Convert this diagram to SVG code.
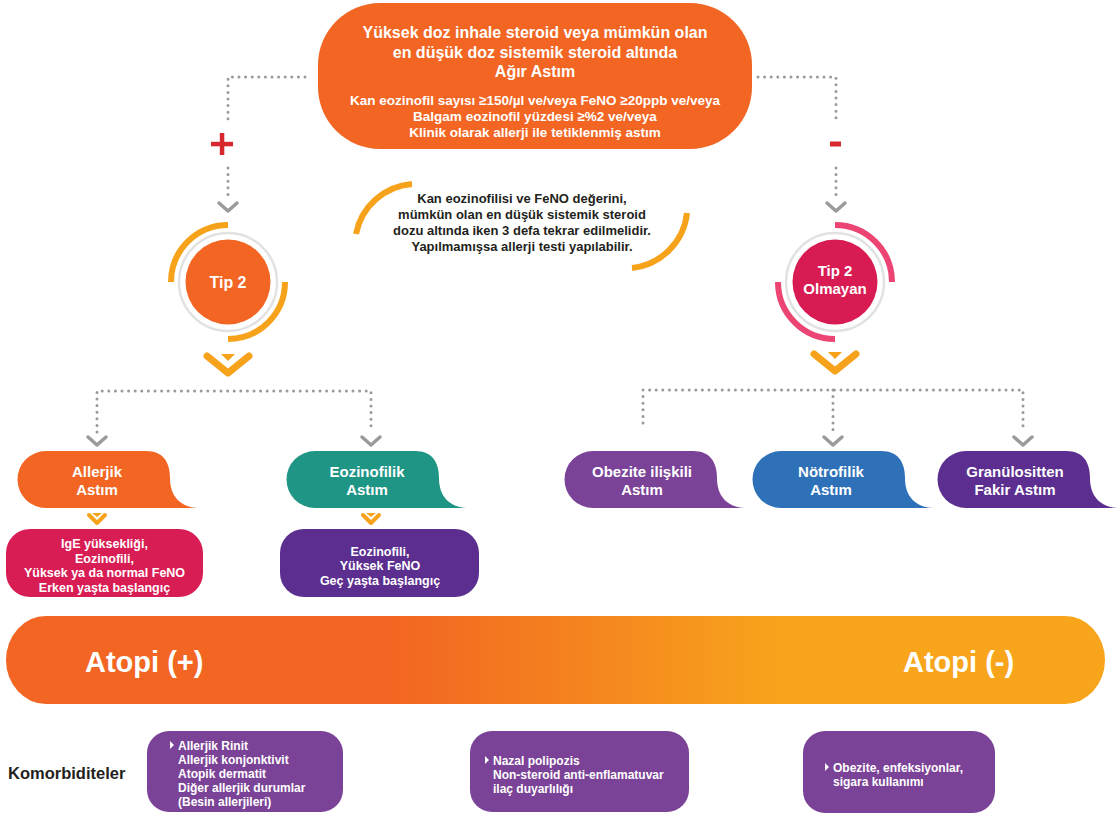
<svg xmlns="http://www.w3.org/2000/svg" width="1119" height="815" viewBox="0 0 1119 815">
<defs>
<style>
text{font-family:"Liberation Sans",Arial,"DejaVu Sans",sans-serif;font-weight:700;}
.w{fill:#fff;}
.c{text-anchor:middle;}
.dot{fill:none;stroke:#9a9a9a;stroke-width:3;stroke-linecap:round;stroke-dasharray:0 6.6;}
.chev{fill:none;stroke:#9a9a9a;stroke-width:3.5;stroke-linecap:round;stroke-linejoin:round;}
.och{fill:none;stroke:#f7a21b;stroke-linecap:round;stroke-linejoin:round;}
.tri{fill:#f7a21b;}
.arcO{fill:none;stroke:#f7a21b;stroke-width:6;}
.arcP{fill:none;stroke:#ec4573;stroke-width:6;}
.ring{fill:#fff;stroke:#e2e2e2;stroke-width:2.5;}
.t15{font-size:15px;}
.t12{font-size:12px;}
.t125{font-size:12.5px;}
.t13{font-size:13px;}
</style>
<linearGradient id="atopi" x1="0" y1="0" x2="1" y2="0">
<stop offset="0" stop-color="#f26522"/>
<stop offset="0.35" stop-color="#f26522"/>
<stop offset="0.71" stop-color="#f8a51c"/>
<stop offset="1" stop-color="#f8a51c"/>
</linearGradient>
<path id="bubble" d="M28 0 H128 C145 0 152 11 152 27 C152 45 162 56 180 57 H28 A28.5 28.5 0 0 1 28 0 Z"/>
</defs>

<g id="connectors">
<polyline class="dot" points="305,77 228,77 228,119"/>
<line class="dot" x1="228" y1="168" x2="228" y2="199"/>
<polyline class="chev" points="219,203 228,211 237,203"/>
<polyline class="dot" points="758,77 836,77 836,119"/>
<line class="dot" x1="836" y1="168" x2="836" y2="199"/>
<polyline class="chev" points="827,203 836,211 845,203"/>
<g fill="#d7282f">
<rect x="211" y="141.8" width="22" height="4.5"/>
<rect x="219.8" y="133" width="4.5" height="22"/>
<rect x="830" y="141.5" width="11" height="5"/>
</g>
<polyline class="dot" points="97,432 97,391 371,391 371,432"/>
<polyline class="chev" points="88,437 97,445 106,437"/>
<polyline class="chev" points="362,437 371,445 380,437"/>
<polyline class="dot" points="643,423 643,390 1023,390 1023,432"/>
<line class="dot" x1="833" y1="390" x2="833" y2="432"/>
<polyline class="chev" points="824,437 833,445 842,437"/>
<polyline class="chev" points="1014,437 1023,445 1032,437"/>
<polyline class="och" stroke-width="7" points="207,356 228,373 249,356"/>
<path class="tri" d="M221 354 H235 L228 361 Z"/>
<polyline class="och" stroke-width="7" points="814,354 835,371 856,354"/>
<path class="tri" d="M828 352 H842 L835 359 Z"/>
<polyline class="och" stroke-width="4" points="89,515 97,523 105,515"/>
<path class="tri" d="M92 513 H102 L97 517 Z"/>
<polyline class="och" stroke-width="4" points="363,515 371,523 379,515"/>
<path class="tri" d="M366 513 H376 L371 517 Z"/>
</g>

<g id="node-top">
<rect x="318" y="3" width="434" height="146" rx="62" ry="62" fill="#f26522"/>
<text class="w c" font-size="16" x="535" y="37.5">Yüksek doz inhale steroid veya mümkün olan</text>
<text class="w c" font-size="16" x="535" y="57.5">en düşük doz sistemik steroid altında</text>
<text class="w c" font-size="16" x="535" y="77">Ağır Astım</text>
<text class="w c" font-size="13.5" x="535" y="104.5">Kan eozinofil sayısı ≥150/µl ve/veya FeNO ≥20ppb ve/veya</text>
<text class="w c" font-size="13.5" x="535" y="120.5">Balgam eozinofil yüzdesi ≥%2 ve/veya</text>
<text class="w c" font-size="13.5" x="535" y="136.5">Klinik olarak allerji ile tetiklenmiş astım</text>
</g>

<g id="note">
<path class="arcO" d="M412 184 A62 62 0 0 0 356 234"/>
<path class="arcO" d="M687 213 A62 62 0 0 1 632 268"/>
<text class="c t13" fill="#231f20" x="522" y="202.5">Kan eozinofilisi ve FeNO değerini,</text>
<text class="c t13" fill="#231f20" x="522" y="218.5">mümkün olan en düşük sistemik steroid</text>
<text class="c t13" fill="#231f20" x="522" y="234.5">dozu altında iken 3 defa tekrar edilmelidir.</text>
<text class="c t13" fill="#231f20" x="522" y="250.5">Yapılmamışsa allerji testi yapılabilir.</text>
</g>

<g id="node-tip2">
<path class="arcO" d="M228 225 A57 57 0 0 0 171 282"/>
<path class="arcO" d="M285 282 A57 57 0 0 1 228 339"/>
<circle class="ring" cx="228" cy="282" r="49"/>
<circle cx="228" cy="282" r="42.5" fill="#f26522"/>
<text class="w c" font-size="16" x="228" y="288">Tip 2</text>
</g>

<g id="node-tip2-olmayan">
<path class="arcP" d="M835 225 A57 57 0 0 1 892 282"/>
<path class="arcP" d="M778 282 A57 57 0 0 0 835 339"/>
<circle class="ring" cx="835" cy="282" r="49"/>
<circle cx="835" cy="282" r="42.5" fill="#d81b53"/>
<text class="w c" font-size="15" x="835" y="276">Tip 2</text>
<text class="w c" font-size="15" x="835" y="294">Olmayan</text>
</g>

<g id="node-allerjik">
<use href="#bubble" x="18" y="451" fill="#f26522"/>
<text class="w c t15" x="97" y="477">Allerjik</text>
<text class="w c t15" x="97" y="494.5">Astım</text>
</g>
<g id="node-eozinofilik">
<use href="#bubble" x="287" y="451" fill="#1e9585"/>
<text class="w c t15" x="367" y="477">Eozinofilik</text>
<text class="w c t15" x="367" y="494.5">Astım</text>
</g>
<g id="node-obezite">
<use href="#bubble" x="565" y="451" fill="#7b4397"/>
<text class="w c t15" x="642" y="477">Obezite ilişkili</text>
<text class="w c t15" x="642" y="494.5">Astım</text>
</g>
<g id="node-notrofilik">
<use href="#bubble" x="753" y="451" fill="#2e71b9"/>
<text class="w c t15" x="831" y="477">Nötrofilik</text>
<text class="w c t15" x="831" y="494.5">Astım</text>
</g>
<g id="node-granulositten">
<use href="#bubble" x="938" y="451" fill="#5b2e8f"/>
<text class="w c t15" x="1015" y="477">Granülositten</text>
<text class="w c t15" x="1015" y="494.5">Fakir Astım</text>
</g>

<g id="node-ige">
<rect x="6" y="529" width="197" height="68" rx="24" fill="#d81c54"/>
<text class="w c t125" x="104.5" y="548">IgE yüksekliği,</text>
<text class="w c t125" x="104.5" y="562.5">Eozinofili,</text>
<text class="w c t125" x="104.5" y="577">Yüksek ya da normal FeNO</text>
<text class="w c t125" x="104.5" y="591.5">Erken yaşta başlangıç</text>
</g>
<g id="node-eozinofili">
<rect x="280" y="529" width="199" height="68" rx="24" fill="#5b2e8f"/>
<text class="w c t125" x="380" y="555.5">Eozinofili,</text>
<text class="w c t125" x="380" y="570">Yüksek FeNO</text>
<text class="w c t125" x="380" y="584.5">Geç yaşta başlangıç</text>
</g>

<g id="node-atopi">
<rect x="6" y="616" width="1099" height="88" rx="40" ry="44" fill="url(#atopi)"/>
<text class="w" font-size="29" x="85" y="672">Atopi (+)</text>
<text class="w" font-size="29" x="903" y="672">Atopi (-)</text>
</g>

<g id="label-komorbiditeler">
<text font-size="16.5" fill="#231f20" x="8" y="779">Komorbiditeler</text>
</g>

<g id="node-kom1">
<rect x="147" y="731" width="196" height="81" rx="22" fill="#7b4397"/>
<path d="M170 741 L174 745 L170 749 Z" fill="#fff"/>
<text class="w t12" x="178" y="749.5">Allerjik Rinit</text>
<text class="w t12" x="178" y="763.5">Allerjik konjonktivit</text>
<text class="w t12" x="178" y="777.5">Atopik dermatit</text>
<text class="w t12" x="178" y="791.5">Diğer allerjik durumlar</text>
<text class="w t12" x="178" y="805.5">(Besin allerjileri)</text>
</g>
<g id="node-kom2">
<rect x="470" y="731" width="219" height="81" rx="22" fill="#7b4397"/>
<path d="M485 756 L489 760 L485 764 Z" fill="#fff"/>
<text class="w t12" x="493" y="764.5">Nazal polipozis</text>
<text class="w t12" x="493" y="778.5">Non-steroid anti-enflamatuvar</text>
<text class="w t12" x="493" y="792.5">ilaç duyarlılığı</text>
</g>
<g id="node-kom3">
<rect x="803" y="731" width="192" height="82" rx="22" fill="#7b4397"/>
<path d="M825 763 L829 767 L825 771 Z" fill="#fff"/>
<text class="w t12" x="833" y="771.5">Obezite, enfeksiyonlar,</text>
<text class="w t12" x="833" y="786">sigara kullanımı</text>
</g>
</svg>
